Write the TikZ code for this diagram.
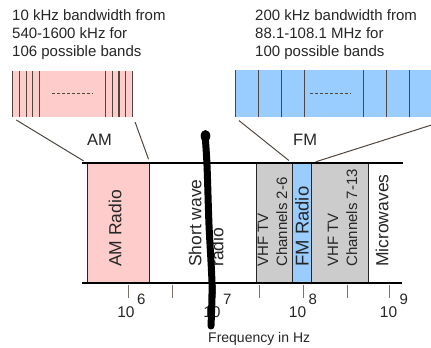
\documentclass[tikz,border=0pt]{standalone}
\usepackage{fontspec}
\setmainfont{Liberation Sans}
\usetikzlibrary{calc}
\definecolor{amfill}{HTML}{FFCCCC}
\definecolor{fmfill}{HTML}{99CCFF}
\definecolor{tvfill}{HTML}{CCCCCC}
\definecolor{leader}{HTML}{4F463E}
\definecolor{inktext}{HTML}{262626}

\begin{document}
\begin{tikzpicture}[x=1pt,y=-1pt,
  band/.style={draw=black!85, line width=0.9pt, minimum height=120pt,
    inner sep=0pt, anchor=north west},
  zoombox/.style={inner sep=0pt, anchor=north west, minimum height=46pt},
  channel/.style={draw=leader, line width=1.2pt},
  dots/.style={draw=leader, line width=0.9pt, dash pattern=on 3pt off 2pt},
  leaderline/.style={draw=leader, line width=1pt, shorten <=5pt, shorten >=4pt},
  axisline/.style={draw=black, line width=1.6pt},
  tickmark/.style={draw=leader!75, line width=0.9pt},
  biglabel/.style={rotate=90, anchor=west, inner sep=0pt, text=inktext,
    font=\fontsize{17.5}{22}\selectfont, align=left},
  smalllabel/.style={rotate=90, anchor=west, inner sep=0pt, text=inktext,
    font=\fontsize{15}{19}\selectfont, align=left},
  note/.style={anchor=north west, inner sep=0pt, align=left, text=inktext,
    font=\fontsize{15}{18}\selectfont},
  bandname/.style={anchor=base west, inner sep=0pt, text=inktext,
    font=\fontsize{16.5}{18}\selectfont},
  decade/.style={anchor=base, inner sep=0pt, text=inktext,
    font=\fontsize{15.5}{17}\selectfont},
  exponent/.style={anchor=base west, inner sep=0pt, text=inktext,
    font=\fontsize{15}{17}\selectfont, xshift=2pt, yshift=13pt},
  axistitle/.style={anchor=base west, inner sep=0pt, text=inktext,
    font=\fontsize{14}{16}\selectfont},
  scribble/.style={draw=black, line width=7pt, line cap=round, line join=round}
]
\useasboundingbox (0,0) rectangle (431,348);
\clip (0,0) rectangle (431,348);

% explanatory notes (top of first line; baselines at 20, 38, 56)
\node[note] (amnote) at (12,9.1) {10 kHz bandwidth from\\540-1600 kHz for\\106 possible bands};
\node[note] (fmnote) at (255,9.1) {200 kHz bandwidth from\\88.1-108.1 MHz for\\100 possible bands};

% magnified AM channels
\node[zoombox, fill=amfill, minimum width=121pt] (amzoom) at (12,71) {};
\foreach \cx in {12.7,19.4,26.1,32.8,39.5,105.6,112.3,119.0,125.8,132.4}
  \draw[channel] (\cx,71) -- (\cx,117);
\draw[dots] (52,93) -- (93,93);

% magnified FM channels
\node[zoombox, fill=fmfill, minimum width=220pt, minimum height=47pt] (fmzoom) at (235,70) {};
\foreach \cx in {235.5,258.5,281.5,304.3,363.3,386.3,409.3}
  \draw[channel] (\cx,70) -- (\cx,117);
\draw[dots] (310,93) -- (351,93);

\node[bandname] (amname) at (87,145) {AM};
\node[bandname] (fmname) at (293,145) {FM};

% spectrum bands
\node[band, minimum width=107pt] (sw) at (149,163) {};
\node[band, fill=amfill, minimum width=62pt] (am) at (87,163) {};
\node[band, fill=tvfill, minimum width=36pt] (vhflo) at (256,163) {};
\node[band, fill=fmfill, minimum width=19pt] (fm) at (292,163) {};
\node[band, fill=tvfill, minimum width=57pt] (vhfhi) at (311,163) {};
\node[band, draw=none, minimum width=35pt] (mw) at (368,163) {};

% band labels
\node[biglabel] (amtext) at (115,267) {AM Radio};
\node[biglabel] (swtext) at (206,267) {Short wave\\radio};
\node[smalllabel] (vhflotext) at (272.5,267) {VHF TV\\Channels 2-6};
\node[biglabel, font=\fontsize{18.5}{22}\selectfont] (fmtext) at (302,267) {FM Radio};
\node[smalllabel] (vhfhitext) at (342.5,267) {VHF TV\\Channels 7-13};
\node[biglabel] (mwtext) at (382,267) {Microwaves};

% leader lines from magnified views to bands
\draw[leaderline] (amzoom.south west) -- (am.north west);
\draw[leaderline] (amzoom.south east) -- (am.north east);
\draw[leaderline] (fmzoom.south west) -- (fm.north west);
\draw[leaderline] (fmzoom.south east) -- (fm.north east);

% frequency axis
\draw[axisline] (82,163) -- (403,163);
\draw[axisline] (82,283) -- (402,283);
\foreach \tx in {128,172,215,259,303,347,389}
  \draw[tickmark] (\tx,285) -- (\tx,298);

\node[decade] (d6) at (126,317) {10};
\node[exponent] (e6) at (d6.base east) {6};
\node[decade] (d7) at (212,317) {10};
\node[exponent] (e7) at (d7.base east) {7};
\node[decade] (d8) at (297.5,317) {10};
\node[exponent] (e8) at (d8.base east) {8};
\node[decade] (d9) at (388.5,317) {10};
\node[exponent] (e9) at (d9.base east) {9};

\node[axistitle] (freq) at (208,342) {Frequency in Hz};

% hand-drawn pen stroke across the chart
\draw[scribble] plot[smooth] coordinates {(205,134) (207,165) (209,225) (212,284) (211,326)};
\fill[black] (205.5,136) ellipse (4.8pt and 6pt);
\end{tikzpicture}
\end{document}
